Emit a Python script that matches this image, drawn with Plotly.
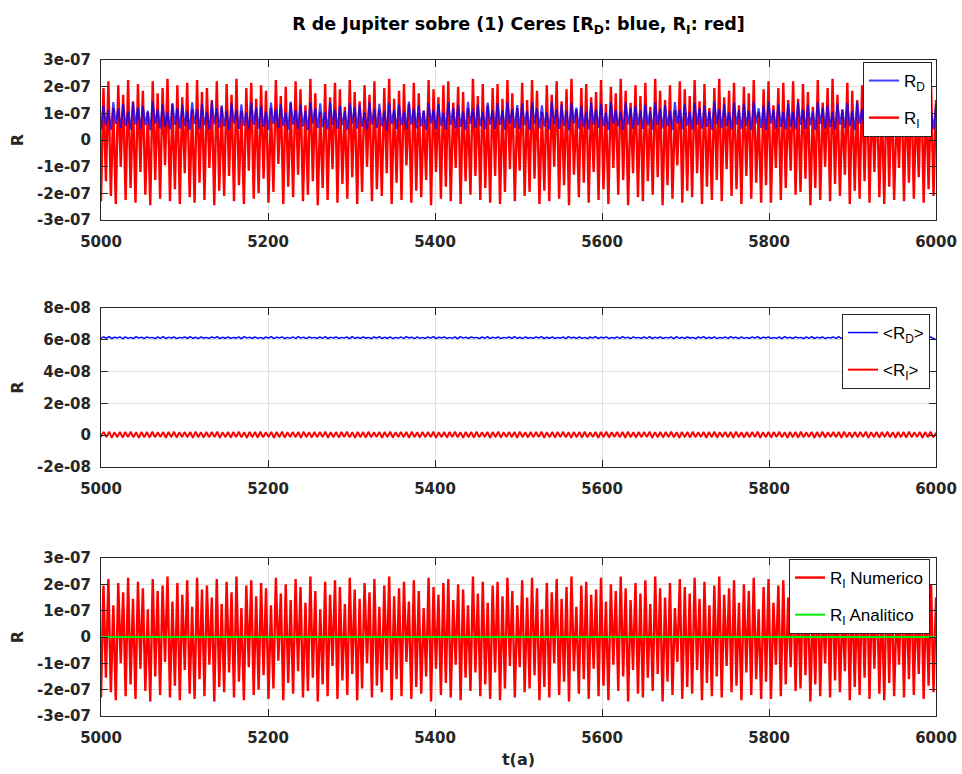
import numpy as np
import plotly.graph_objects as go

# ---------------------------------------------------------------------------
# Disturbing function R of Jupiter on (1) Ceres, t = 5000..6000 years.
# Every series alternates trough / crest of each short-period oscillation.
# ---------------------------------------------------------------------------
T_START, T_END = 5000, 6000

# R_I (indirect part), units of 1e-7
ri_e7 = [
    -2.30, 1.95, -1.55, 2.20, -2.10, 1.20, -2.40, 2.05, -1.00, 1.70,
    -2.25, 2.25, -1.80, 1.45, -2.35, 2.10, -1.20, 1.85, -2.05, 1.05,
    -2.45, 2.20, -1.50, 1.75, -2.20, 1.95, -0.95, 2.30, -2.30, 1.35,
    -1.85, 2.05, -2.40, 1.60, -1.25, 2.15, -2.15, 1.15, -2.35, 2.25,
    -1.60, 1.80, -2.25, 1.95, -1.05, 1.50, -2.45, 2.20, -1.90, 1.25,
    -2.10, 2.10, -1.35, 1.70, -2.30, 2.30, -1.70, 1.10, -2.40, 1.95,
    -1.15, 2.15, -2.20, 1.55, -2.00, 2.05, -1.45, 1.85, -2.35, 1.20,
    -1.95, 2.25, -0.90, 1.65, -2.40, 2.00, -1.75, 1.40, -2.15, 2.20,
    -1.30, 1.90, -2.30, 1.30, -2.05, 2.30, -1.55, 1.75, -2.45, 1.05,
    -1.80, 2.10, -2.25, 1.60, -1.10, 2.15, -2.35, 1.90, -1.65, 1.25,
    -2.20, 2.25, -1.40, 1.80, -2.40, 1.45, -1.95, 2.05, -1.00, 1.70,
    -2.30, 2.20, -1.85, 1.15, -2.10, 1.95, -1.25, 2.30, -2.40, 1.55,
    -1.60, 1.85, -2.25, 2.10, -0.95, 1.35, -2.35, 2.15, -1.90, 1.75,
    -2.15, 1.10, -1.50, 2.25, -2.45, 1.90, -1.20, 1.60, -2.20, 2.05,
    -1.75, 2.20, -2.30, 1.40, -1.05, 2.00, -2.40, 1.80, -1.55, 1.20,
    -2.05, 2.30, -1.35, 1.65, -2.25, 2.10, -1.80, 1.30, -2.35, 1.95,
    -1.35, 2.10, -2.40, 1.55, -1.95, 2.25, -1.10, 1.75, -2.30, 1.20,
    -1.15, 2.15, -2.10, 1.50, -1.95, 2.25, -1.45, 1.85, -2.40, 1.05,
    -1.90, 2.05, -2.30, 1.70, -1.00, 2.20, -2.20, 1.45, -1.70, 1.90,
    -2.45, 2.30, -1.30, 1.15, -2.15, 1.95, -1.60, 2.10, -2.35, 1.60,
    -1.20, 1.80, -2.25, 2.25, -1.85, 1.35, -2.40, 2.00, -1.05, 1.75,
    -2.05, 2.30, -1.50, 1.85, -2.45, 1.40, -1.25, 2.05, -2.15, 1.65,
    -2.30, 2.15, -1.55, 1.25, -2.05, 2.30, -1.40, 1.85, -2.45, 1.50,
    -1.70, 2.05, -2.20, 1.10, -0.95, 2.20, -2.35, 1.90, -1.90, 1.65,
    -2.15, 2.25, -1.25, 1.45, -2.40, 2.10, -1.75, 1.20, -2.25, 1.95,
    -1.50, 2.30, -2.30, 1.60, -1.10, 1.85, -2.10, 2.15, -1.85, 1.30,
    -2.40, 2.00, -1.35, 1.75, -2.20, 2.25, -1.60, 1.05, -2.35, 1.90,
    -1.70, 2.20, -2.35, 1.30, -1.05, 1.95, -2.25, 2.15, -1.80, 1.50,
    -1.15, 2.20, -2.05, 1.55, -1.95, 2.10, -1.45, 1.80, -2.45, 1.25,
    -1.80, 2.25, -2.25, 1.40, -1.00, 1.95, -2.30, 2.30, -1.65, 1.70,
    -2.10, 1.15, -1.30, 2.15, -2.40, 1.85, -1.90, 1.50, -2.20, 2.05,
    -1.55, 2.20, -2.35, 1.65, -1.20, 2.00, -2.15, 1.35, -2.40, 2.25,
    -1.75, 1.90, -2.25, 1.10, -1.05, 2.15, -2.30, 1.80, -1.60, 2.10,
    -2.20, 1.45, -1.40, 2.25, -2.35, 1.70, -1.85, 2.00, -2.10, 1.50,
]

# R_D (direct part), units of 1e-7
rd_e7 = [
    0.40, 1.30, 0.55, 1.12, 0.38, 1.42, 0.60, 1.18, 0.45, 1.35,
    0.52, 1.06, 0.39, 1.40, 0.58, 1.22, 0.42, 1.28, 0.56, 1.10,
    0.37, 1.44, 0.61, 1.15, 0.43, 1.33, 0.50, 1.04, 0.40, 1.38,
    0.57, 1.20, 0.44, 1.31, 0.53, 1.08, 0.38, 1.41, 0.60, 1.16,
    0.41, 1.36, 0.55, 1.05, 0.39, 1.43, 0.59, 1.19, 0.46, 1.30,
    0.50, 1.09, 0.37, 1.39, 0.62, 1.14, 0.42, 1.34, 0.54, 1.03,
    0.40, 1.42, 0.57, 1.21, 0.43, 1.29, 0.49, 1.07, 0.38, 1.40,
    0.60, 1.17, 0.44, 1.35, 0.53, 1.04, 0.39, 1.44, 0.58, 1.12,
    0.41, 1.32, 0.51, 1.10, 0.37, 1.41, 0.62, 1.19, 0.45, 1.37,
    0.48, 1.05, 0.40, 1.43, 0.57, 1.15, 0.42, 1.30, 0.55, 1.08,
    0.38, 1.39, 0.61, 1.22, 0.43, 1.33, 0.50, 1.04, 0.39, 1.42,
    0.59, 1.16, 0.45, 1.36, 0.52, 1.09, 0.37, 1.40, 0.60, 1.13,
    0.42, 1.34, 0.56, 1.06, 0.40, 1.44, 0.58, 1.18, 0.44, 1.29,
    0.51, 1.10, 0.38, 1.38, 0.62, 1.14, 0.41, 1.35, 0.54, 1.03,
    0.39, 1.41, 0.57, 1.20, 0.43, 1.31, 0.49, 1.07, 0.37, 1.43,
    0.60, 1.17, 0.45, 1.33, 0.52, 1.05, 0.40, 1.40, 0.58, 1.12,
    0.42, 1.38, 0.57, 1.11, 0.39, 1.43, 0.61, 1.17, 0.45, 1.31,
    0.41, 1.37, 0.55, 1.08, 0.38, 1.42, 0.61, 1.19, 0.44, 1.30,
    0.50, 1.04, 0.39, 1.44, 0.59, 1.15, 0.42, 1.34, 0.53, 1.09,
    0.37, 1.39, 0.62, 1.21, 0.43, 1.28, 0.48, 1.06, 0.40, 1.41,
    0.58, 1.16, 0.45, 1.36, 0.51, 1.03, 0.38, 1.43, 0.60, 1.13,
    0.51, 1.06, 0.38, 1.41, 0.59, 1.20, 0.43, 1.29, 0.55, 1.09,
    0.42, 1.33, 0.56, 1.07, 0.39, 1.40, 0.57, 1.18, 0.44, 1.31,
    0.51, 1.10, 0.37, 1.42, 0.61, 1.14, 0.41, 1.35, 0.54, 1.05,
    0.40, 1.38, 0.57, 1.20, 0.43, 1.30, 0.49, 1.08, 0.38, 1.44,
    0.59, 1.17, 0.44, 1.34, 0.52, 1.04, 0.39, 1.41, 0.58, 1.11,
    0.41, 1.36, 0.53, 1.09, 0.37, 1.43, 0.62, 1.19, 0.45, 1.29,
    0.37, 1.44, 0.62, 1.14, 0.41, 1.34, 0.49, 1.05, 0.40, 1.36,
    0.50, 1.06, 0.40, 1.40, 0.57, 1.15, 0.42, 1.33, 0.55, 1.07,
    0.38, 1.42, 0.60, 1.21, 0.43, 1.31, 0.48, 1.05, 0.39, 1.37,
    0.58, 1.12, 0.44, 1.39, 0.51, 1.08, 0.37, 1.42, 0.61, 1.16,
    0.40, 1.35, 0.55, 1.04, 0.38, 1.41, 0.59, 1.20, 0.43, 1.32,
    0.52, 1.09, 0.39, 1.44, 0.56, 1.13, 0.41, 1.36, 0.54, 1.06,
    0.37, 1.40, 0.60, 1.18, 0.44, 1.30, 0.50, 1.07, 0.40, 1.33,
]

# <R_D> running mean, units of 1e-8
mean_rd_e8 = [
    6.09, 6.17, 6.11, 6.19, 6.08, 6.16, 6.12, 6.18, 6.07, 6.17,
    6.10, 6.15, 6.08, 6.19, 6.11, 6.16, 6.09, 6.18, 6.12, 6.15,
    6.08, 6.17, 6.10, 6.19, 6.09, 6.16, 6.11, 6.18, 6.08, 6.15,
    6.12, 6.17, 6.09, 6.19, 6.10, 6.16, 6.08, 6.18, 6.11, 6.15,
    6.09, 6.17, 6.12, 6.19, 6.08, 6.16, 6.10, 6.18, 6.09, 6.15,
    6.11, 6.17, 6.08, 6.19, 6.12, 6.16, 6.09, 6.18, 6.10, 6.15,
    6.08, 6.17, 6.11, 6.19, 6.09, 6.16, 6.12, 6.18, 6.08, 6.15,
    6.10, 6.17, 6.09, 6.19, 6.11, 6.16, 6.08, 6.18, 6.12, 6.15,
    6.09, 6.17, 6.10, 6.19, 6.08, 6.16, 6.11, 6.18, 6.09, 6.15,
    6.12, 6.17, 6.08, 6.19, 6.10, 6.16, 6.09, 6.18, 6.11, 6.15,
    6.08, 6.17, 6.12, 6.19, 6.09, 6.16, 6.10, 6.18, 6.08, 6.15,
    6.11, 6.17, 6.09, 6.19, 6.12, 6.16, 6.08, 6.18, 6.10, 6.15,
    6.09, 6.17, 6.11, 6.19, 6.08, 6.16, 6.12, 6.18, 6.09, 6.15,
    6.10, 6.17, 6.08, 6.19, 6.11, 6.16, 6.09, 6.18, 6.12, 6.15,
    6.08, 6.17, 6.10, 6.19, 6.09, 6.16, 6.11, 6.18, 6.08, 6.15,
    6.12, 6.17, 6.09, 6.19, 6.10, 6.16, 6.08, 6.18, 6.11, 6.15,
    6.09, 6.17, 6.12, 6.19, 6.08, 6.16, 6.10, 6.18, 6.09, 6.15,
    6.11, 6.17, 6.08, 6.19, 6.12, 6.16, 6.09, 6.18, 6.10, 6.15,
    6.08, 6.17, 6.11, 6.19, 6.09, 6.16, 6.12, 6.18, 6.08, 6.15,
    6.10, 6.17, 6.09, 6.19, 6.11, 6.16, 6.08, 6.18, 6.12, 6.15,
    6.09, 6.17, 6.10, 6.19, 6.08, 6.16, 6.11, 6.18, 6.09, 6.15,
    6.12, 6.17, 6.08, 6.19, 6.10, 6.16, 6.09, 6.18, 6.11, 6.15,
    6.08, 6.17, 6.12, 6.19, 6.09, 6.16, 6.10, 6.18, 6.08, 6.15,
    6.11, 6.17, 6.09, 6.19, 6.12, 6.16, 6.08, 6.18, 6.10, 6.15,
    6.09, 6.17, 6.11, 6.19, 6.08, 6.16, 6.12, 6.18, 6.09, 6.15,
    6.10, 6.17, 6.08, 6.19, 6.11, 6.16, 6.09, 6.18, 6.12, 6.15,
    6.08, 6.17, 6.10, 6.19, 6.09, 6.16, 6.11, 6.18, 6.08, 6.15,
    6.12, 6.17, 6.09, 6.19, 6.10, 6.16, 6.08, 6.18, 6.11, 6.15,
    6.09, 6.17, 6.12, 6.19, 6.08, 6.16, 6.10, 6.18, 6.09, 6.15,
    6.11, 6.17, 6.08, 6.19, 6.12, 6.16, 6.09, 6.18, 6.10, 6.15,
    6.08, 6.17, 6.11, 6.19, 6.09, 6.16, 6.12, 6.18, 6.08, 6.02,
]

# <R_I> running mean, units of 1e-8
mean_ri_e8 = [
    -0.12, 0.18, -0.10, 0.20, -0.14, 0.17, -0.11, 0.19, -0.13, 0.18,
    -0.10, 0.20, -0.12, 0.17, -0.14, 0.19, -0.11, 0.18, -0.13, 0.20,
    -0.12, 0.17, -0.10, 0.19, -0.14, 0.18, -0.11, 0.20, -0.13, 0.17,
    -0.10, 0.19, -0.12, 0.18, -0.14, 0.20, -0.11, 0.17, -0.13, 0.19,
    -0.12, 0.18, -0.10, 0.20, -0.14, 0.17, -0.11, 0.19, -0.13, 0.18,
    -0.10, 0.20, -0.12, 0.17, -0.14, 0.19, -0.11, 0.18, -0.13, 0.20,
    -0.12, 0.17, -0.10, 0.19, -0.14, 0.18, -0.11, 0.20, -0.13, 0.17,
    -0.10, 0.19, -0.12, 0.18, -0.14, 0.20, -0.11, 0.17, -0.13, 0.19,
    -0.12, 0.18, -0.10, 0.20, -0.14, 0.17, -0.11, 0.19, -0.13, 0.18,
    -0.10, 0.20, -0.12, 0.17, -0.14, 0.19, -0.11, 0.18, -0.13, 0.20,
    -0.12, 0.17, -0.10, 0.19, -0.14, 0.18, -0.11, 0.20, -0.13, 0.17,
    -0.10, 0.19, -0.12, 0.18, -0.14, 0.20, -0.11, 0.17, -0.13, 0.19,
    -0.12, 0.18, -0.10, 0.20, -0.14, 0.17, -0.11, 0.19, -0.13, 0.18,
    -0.10, 0.20, -0.12, 0.17, -0.14, 0.19, -0.11, 0.18, -0.13, 0.20,
    -0.12, 0.17, -0.10, 0.19, -0.14, 0.18, -0.11, 0.20, -0.13, 0.17,
    -0.10, 0.19, -0.12, 0.18, -0.14, 0.20, -0.11, 0.17, -0.13, 0.19,
    -0.12, 0.18, -0.10, 0.20, -0.14, 0.17, -0.11, 0.19, -0.13, 0.18,
    -0.10, 0.20, -0.12, 0.17, -0.14, 0.19, -0.11, 0.18, -0.13, 0.20,
    -0.12, 0.17, -0.10, 0.19, -0.14, 0.18, -0.11, 0.20, -0.13, 0.17,
    -0.10, 0.19, -0.12, 0.18, -0.14, 0.20, -0.11, 0.17, -0.13, 0.19,
    -0.12, 0.18, -0.10, 0.20, -0.14, 0.17, -0.11, 0.19, -0.13, 0.18,
    -0.10, 0.20, -0.12, 0.17, -0.14, 0.19, -0.11, 0.18, -0.13, 0.20,
    -0.12, 0.17, -0.10, 0.19, -0.14, 0.18, -0.11, 0.20, -0.13, 0.17,
    -0.10, 0.19, -0.12, 0.18, -0.14, 0.20, -0.11, 0.17, -0.13, 0.19,
    -0.12, 0.18, -0.10, 0.20, -0.14, 0.17, -0.11, 0.19, -0.13, 0.18,
    -0.10, 0.20, -0.12, 0.17, -0.14, 0.19, -0.11, 0.18, -0.13, 0.20,
    -0.12, 0.17, -0.10, 0.19, -0.14, 0.18, -0.11, 0.20, -0.13, 0.17,
    -0.10, 0.19, -0.12, 0.18, -0.14, 0.20, -0.11, 0.17, -0.13, 0.19,
    -0.12, 0.18, -0.10, 0.20, -0.14, 0.17, -0.11, 0.19, -0.13, 0.18,
    -0.10, 0.20, -0.12, 0.17, -0.14, 0.19, -0.11, 0.18, -0.13, 0.20,
    -0.12, 0.17, -0.10, 0.19, -0.14, 0.18, -0.11, 0.20, -0.13, 0.17,
]

# Analytic R_I (secular value) at the ends of the interval, units of 1e-7
t_analitico = [5000, 6000]
ri_analitico_e7 = [0.0, 0.0]

x_ticks = [5000, 5200, 5400, 5600, 5800, 6000]
y_ticks_top = [-3e-07, -2e-07, -1e-07, 0, 1e-07, 2e-07, 3e-07]
y_text_top = ["-3e-07", "-2e-07", "-1e-07", "0", "1e-07", "2e-07", "3e-07"]
y_ticks_mid = [-2e-08, 0, 2e-08, 4e-08, 6e-08, 8e-08]
y_text_mid = ["-2e-08", "0", "2e-08", "4e-08", "6e-08", "8e-08"]

# ---------------------------------------------------------------------------
ri = np.array(ri_e7) * 1e-7
rd = np.array(rd_e7) * 1e-7
mrd = np.array(mean_rd_e8) * 1e-8
mri = np.array(mean_ri_e8) * 1e-8
ria = np.array(ri_analitico_e7) * 1e-7

t_ri = np.linspace(T_START, T_END, len(ri))
t_rd = np.linspace(T_START, T_END, len(rd))
t_mrd = np.linspace(T_START, T_END, len(mrd))
t_mri = np.linspace(T_START, T_END, len(mri))

BLUE, RED, GREEN = "#0000ff", "#ff0000", "#00ee00"
INK = "#262626"
TICK_FONT = dict(family="DejaVu Sans", size=15, color=INK, weight="bold")
LABEL_FONT = dict(family="DejaVu Sans", size=16, color=INK, weight="bold")
LEG_FONT = dict(family="Liberation Sans, Arial, sans-serif", size=17, color="#000000")

fig = go.Figure()

# top panel: R_I underneath, R_D drawn over it (slightly translucent so the
# crossing R_I strokes still show); legend keeps R_D first
fig.add_trace(go.Scatter(x=t_ri, y=ri, mode="lines", name="R<sub>I</sub>",
                         line=dict(color=RED, width=2.4), xaxis="x", yaxis="y",
                         legend="legend", legendgroup="b", legendrank=2))
fig.add_trace(go.Scatter(x=t_rd, y=rd, mode="lines", name="R<sub>D</sub>",
                         line=dict(color=BLUE, width=2), opacity=0.75,
                         xaxis="x", yaxis="y",
                         legend="legend", legendgroup="a", legendrank=1))

# middle panel: running means
fig.add_trace(go.Scatter(x=t_mrd, y=mrd, mode="lines", name="&lt;R<sub>D</sub>&gt;",
                         line=dict(color=BLUE, width=1.5, shape="spline"),
                         xaxis="x2", yaxis="y2", legend="legend2", legendgroup="c"))
fig.add_trace(go.Scatter(x=t_mri, y=mri, mode="lines", name="&lt;R<sub>I</sub>&gt;",
                         line=dict(color=RED, width=2, shape="spline"),
                         xaxis="x2", yaxis="y2", legend="legend2", legendgroup="d"))

# bottom panel: numerical vs analytic R_I
fig.add_trace(go.Scatter(x=t_ri, y=ri, mode="lines", name="R<sub>I</sub> Numerico",
                         line=dict(color=RED, width=2.4), xaxis="x3", yaxis="y3",
                         legend="legend3", legendgroup="e"))
fig.add_trace(go.Scatter(x=t_analitico, y=ria, mode="lines", name="R<sub>I</sub> Analitico",
                         line=dict(color=GREEN, width=2), xaxis="x3", yaxis="y3",
                         legend="legend3", legendgroup="f"))


def xaxis_style(anchor, title=None):
    d = dict(domain=[0, 1], anchor=anchor, range=[T_START, T_END],
             tickvals=x_ticks, ticktext=[str(v) for v in x_ticks],
             showline=True, linecolor=INK, linewidth=1, mirror="ticks",
             ticks="inside", ticklen=7, tickcolor=INK, tickwidth=1,
             showgrid=True, gridcolor="#e0e0e0", gridwidth=1, zeroline=False,
             tickfont=TICK_FONT, ticklabelstandoff=8, automargin=False)
    if title:
        d["title"] = dict(text=title, font=LABEL_FONT, standoff=7)
    return d


def yaxis_style(anchor, domain, rng, vals, text):
    return dict(domain=domain, anchor=anchor, range=rng, tickvals=vals, ticktext=text,
                showline=True, linecolor=INK, linewidth=1, mirror="ticks",
                ticks="inside", ticklen=7, tickcolor=INK, tickwidth=1,
                showgrid=True, gridcolor="#e0e0e0", gridwidth=1, zeroline=False,
                tickfont=TICK_FONT, ticklabelstandoff=6, automargin=False,
                title=dict(text="R", font=LABEL_FONT, standoff=9))


L, R, T, B = 101, 26, 60, 58
W, H = 962, 774
PH = H - T - B


def yfrac(py):
    return (H - B - py) / PH


def xfrac(px):
    return (px - L) / (W - L - R)


legend_common = dict(bgcolor="#ffffff", bordercolor=INK, borderwidth=1, font=LEG_FONT,
                     xanchor="right", yanchor="top", tracegroupgap=12,
                     itemwidth=30)

fig.update_layout(
    width=W, height=H,
    margin=dict(l=L, r=R, t=T, b=B, autoexpand=False),
    paper_bgcolor="#ffffff", plot_bgcolor="#ffffff",
    title=dict(text="R de Jupiter sobre (1) Ceres [R<sub>D</sub>: blue, R<sub>I</sub>: red]",
               font=dict(family="DejaVu Sans", size=17.5, color="#000000", weight="bold"),
               x=0.5, xref="paper", xanchor="center",
               y=1 - 24 / H, yref="container", yanchor="middle"),
    xaxis=xaxis_style("y"),
    yaxis=yaxis_style("x", [yfrac(220), yfrac(60)], [-3e-07, 3e-07], y_ticks_top, y_text_top),
    xaxis2=xaxis_style("y2"),
    yaxis2=yaxis_style("x2", [yfrac(467), yfrac(308)], [-2e-08, 8e-08], y_ticks_mid, y_text_mid),
    xaxis3=xaxis_style("y3", title="t(a)"),
    yaxis3=yaxis_style("x3", [yfrac(716), yfrac(558)], [-3e-07, 3e-07], y_ticks_top, y_text_top),
    legend=dict(x=xfrac(932), y=yfrac(62), **legend_common),
    legend2=dict(x=xfrac(930), y=yfrac(314), **legend_common),
    legend3=dict(x=xfrac(930), y=yfrac(559), **legend_common),
    showlegend=True,
)

fig.write_html("out.html")
